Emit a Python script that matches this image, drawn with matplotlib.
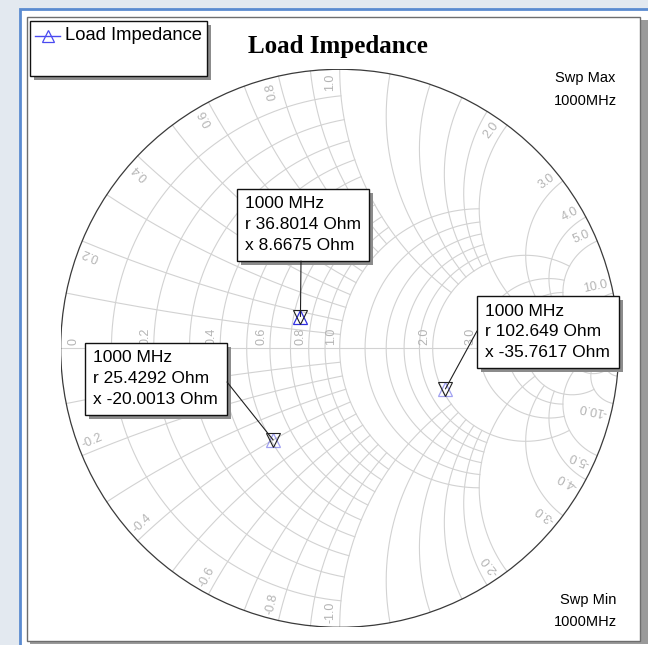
import numpy as np
import matplotlib
matplotlib.use("Agg")
import matplotlib.pyplot as plt
from matplotlib.patches import Rectangle, Circle, ConnectionPatch

# ---- data ----------------------------------------------------------------
z0 = 50.0
freq_label = "1000 MHz"
point_r = [36.8014, 102.649, 25.4292]     # Ohm
point_x = [8.6675, -35.7617, -20.0013]    # Ohm
point_trace_alpha = [1.0, 0.45, 0.45]

# box layout (figure pixels): left, top, right, bottom
box_rects = [(237, 189, 369, 261), (477, 296, 619, 368), (85, 343, 227, 415)]
# where each leader line leaves its box
leader_starts = [(301, 261), (477, 331), (227, 382)]

# grid: (value, clip) pairs
r_grid = ([(v, 1.0) for v in np.round(np.arange(0.1, 1.0, 0.1), 1)] +
          [(1.0, 2.0)] +
          [(v, 2.0) for v in [1.2, 1.4, 1.6, 1.8]] +
          [(2.0, 5.0), (3.0, 5.0), (4.0, 5.0), (5.0, 10.0), (10.0, 20.0), (20.0, 50.0)])
x_grid = ([(v, 1.0) for v in np.round(np.arange(0.1, 1.0, 0.1), 1)] +
          [(1.0, 2.0)] +
          [(v, 2.0) for v in [1.2, 1.4, 1.6, 1.8]] +
          [(2.0, 5.0), (3.0, 5.0), (4.0, 5.0), (5.0, 10.0), (10.0, 20.0), (20.0, 50.0)])
r_labels = [0.0, 0.2, 0.4, 0.6, 0.8, 1.0, 2.0, 3.0]
x_labels = [0.2, 0.4, 0.6, 0.8, 1.0, 2.0, 3.0, 4.0, 5.0, 10.0]

W, H = 648, 645
cx, cy, R = 339.7, 348.3, 279.0

GRID = "#d2d2d2"
LAB = "#b4b4b4"
FONT = ["Liberation Sans", "DejaVu Sans"]


def gamma(z):
    return (z - 1) / (z + 1)


fig = plt.figure(figsize=(W / 100, H / 100), dpi=100)
fig.patch.set_facecolor("#e3e9f0")

# pixel overlay for frame and decorations
bg = fig.add_axes([0, 0, 1, 1])
bg.set_xlim(0, W)
bg.set_ylim(H, 0)
bg.axis("off")
bg.add_patch(Rectangle((20, 9), W, H, facecolor="white", edgecolor="#5b8bd0", lw=2))
bg.add_patch(Rectangle((30, 20), W, H - 20 - 1, facecolor="#9a9a9a", edgecolor="none"))
bg.add_patch(Rectangle((27, 17), 613, 624, facecolor="white", edgecolor="#6e6e6e", lw=1))

# Smith chart axes in reflection-coefficient coordinates
ax = fig.add_axes([(cx - R) / W, (H - cy - R) / H, 2 * R / W, 2 * R / H])
ax.set_xlim(-1, 1)
ax.set_ylim(-1, 1)
ax.axis("off")

# constant-resistance circles
for r, clip in r_grid:
    t = np.linspace(-np.arctan(clip), np.arctan(clip), 400)
    g = gamma(r + 1j * np.tan(t))
    ax.plot(g.real, g.imag, color=GRID, lw=0.8, zorder=1)

# constant-reactance arcs
for xv, clip in x_grid:
    t = np.linspace(0, np.arctan(clip), 400)
    for s in (1, -1):
        g = gamma(np.tan(t) + 1j * s * xv)
        ax.plot(g.real, g.imag, color=GRID, lw=0.8, zorder=1)

ax.plot([-1, 1], [0, 0], color=GRID, lw=0.8, zorder=1)
ax.add_patch(Circle((0, 0), 1, fill=False, edgecolor="#3a3a3a", lw=0.9, zorder=2))

LAB_KW = dict(color=LAB, fontsize=9, family=FONT, rotation_mode="anchor")

# resistance labels along the real axis
for r in r_labels:
    g = gamma(r)
    if r == 0:
        ax.text(g + 0.045, 0.012, "0", rotation=90, ha="left", va="center", **LAB_KW)
    else:
        ax.text(g - 0.008, 0.012, f"{r:.1f}", rotation=90, ha="left", va="bottom",
                **LAB_KW)

# reactance labels around the rim
for xv in x_labels:
    for s in (1, -1):
        g = gamma(1j * s * xv)
        ang = np.angle(g)
        a2 = ang + s * 0.035
        px, py = 0.985 * np.cos(a2), 0.985 * np.sin(a2)
        txt = f"{s * xv:.1f}"
        if s > 0:
            ax.text(px, py, txt, rotation=np.degrees(ang), ha="right", va="center",
                    **LAB_KW)
        else:
            ax.text(px, py, txt, rotation=np.degrees(ang) + 180, ha="left",
                    va="center", **LAB_KW)

# measured points with marker annotations
top = fig.add_axes([0, 0, 1, 1], facecolor="none")
top.set_xlim(0, W)
top.set_ylim(H, 0)
top.axis("off")

for i in range(len(point_r)):
    z = (point_r[i] + 1j * point_x[i]) / z0
    g = gamma(z)
    ax.plot(g.real, g.imag, marker="^", ms=9.5, mfc="none", mec="#3030e0",
            mew=0.9, alpha=point_trace_alpha[i], zorder=5)
    ax.plot(g.real, g.imag, marker="v", ms=9.5, mfc="none", mec="#222222",
            mew=0.8, zorder=6)
    sx, sy = leader_starts[i]
    con = ConnectionPatch(xyA=(sx, sy), coordsA=top.transData,
                          xyB=(g.real, g.imag), coordsB=ax.transData,
                          color="#202020", lw=0.8, zorder=4)
    fig.add_artist(con)
    l, t_, rr, b = box_rects[i]
    top.add_patch(Rectangle((l + 4, t_ + 4), rr - l, b - t_, facecolor="#8c8c8c",
                            edgecolor="none", zorder=7))
    top.add_patch(Rectangle((l, t_), rr - l, b - t_, facecolor="white",
                            edgecolor="#111111", lw=1.0, zorder=8))
    lines = [freq_label, f"r {point_r[i]:g} Ohm", f"x {point_x[i]:.4f} Ohm"]
    for k, line in enumerate(lines):
        top.text(l + 8, t_ + 15 + 20.7 * k, line, ha="left", va="center",
                 fontsize=12.5, family=FONT, zorder=9)

# legend
top.add_patch(Rectangle((34, 25), 177, 55, facecolor="#8c8c8c", edgecolor="none", zorder=7))
top.add_patch(Rectangle((30, 21), 177, 55, facecolor="white", edgecolor="#111111",
                        lw=1.0, zorder=8))
top.plot([35, 60], [36, 36], color="#4a4af0", lw=1.0, zorder=9)
top.plot([47.5], [36], marker="^", ms=8, mfc="none", mec="#4a4af0", mew=0.9, zorder=9)
top.text(65, 36, "Load Impedance", ha="left", va="center", fontsize=13.2,
         family=FONT, zorder=9)

# title and sweep info
top.text(338, 47, "Load Impedance", ha="center", va="center", fontsize=18,
         fontweight="bold", family=["Liberation Serif", "DejaVu Serif"])
top.text(585, 78, "Swp Max", ha="center", va="center", fontsize=10.5, family=FONT)
top.text(585, 101, "1000MHz", ha="center", va="center", fontsize=10.5, family=FONT)
top.text(588, 600, "Swp Min", ha="center", va="center", fontsize=10.5, family=FONT)
top.text(585, 622, "1000MHz", ha="center", va="center", fontsize=10.5, family=FONT)

fig.savefig("out.png", dpi=100)
